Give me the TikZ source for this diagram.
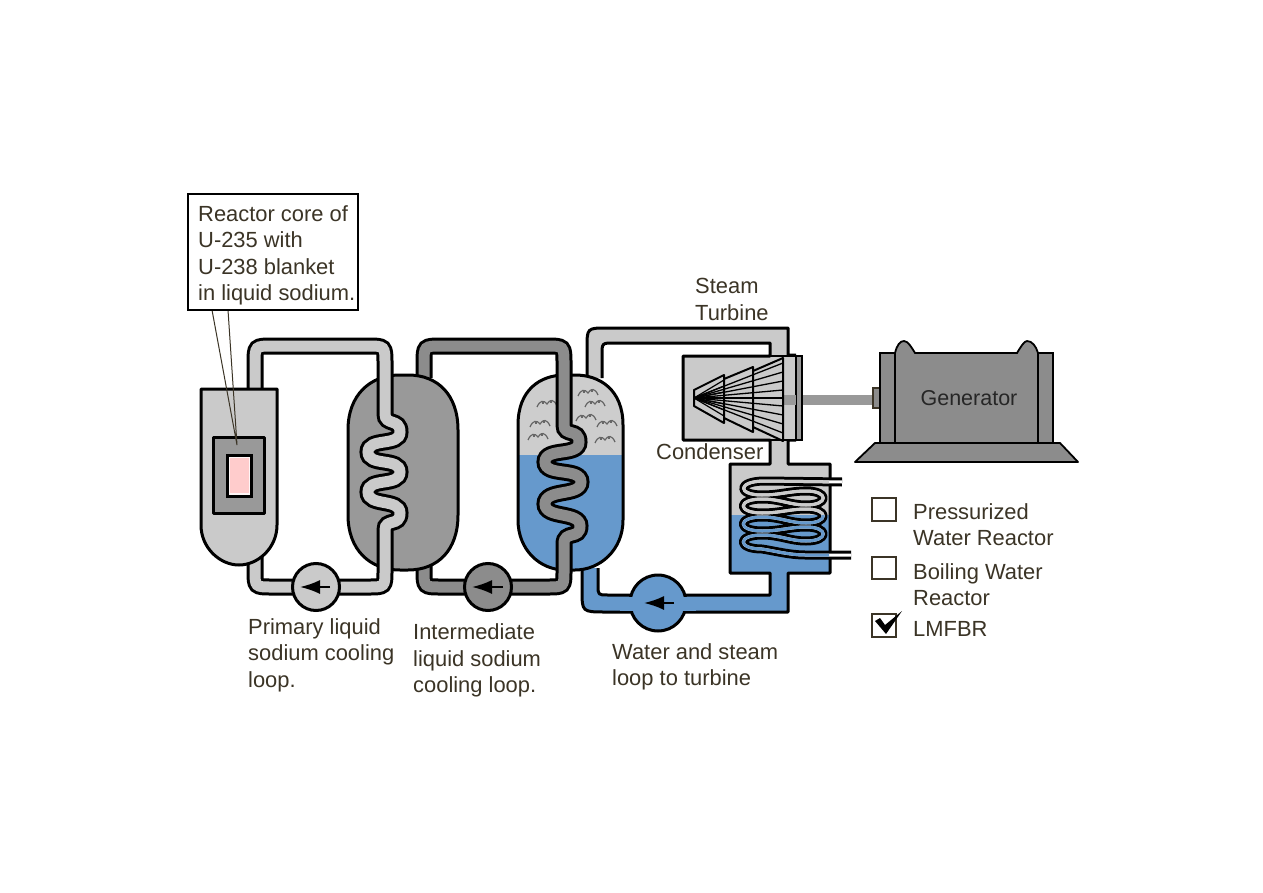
\documentclass[tikz,border=0pt]{standalone}
\usepackage{fontspec}
\setmainfont{Liberation Sans}
\usetikzlibrary{arrows.meta}
\definecolor{ink}{HTML}{3B3426}
\definecolor{lgray}{HTML}{CACACA}
\definecolor{mgray}{HTML}{999999}
\definecolor{dgray}{HTML}{8C8C8C}
\definecolor{water}{HTML}{6699CC}
\definecolor{pink}{HTML}{FFCCCC}
\tikzset{
  lbl/.style={anchor=north west,align=left,inner sep=0pt,text=ink,font=\fontsize{21.9}{26.6}\selectfont},
  outl/.style={draw=black,line width=3pt,line join=round},
  pumpc/.style={draw=black,line width=3pt},
  tickbox/.style={draw=ink,line width=2pt,fill=white},
  squig/.style={draw=black!60,line width=1.2pt},
  flowtip/.style={-{Latex[length=20pt,width=14pt]},black,line width=2pt},
  pics/steamsq/.style={code={
    \draw[squig] (-10,4) .. controls (-7,-3) and (-3,-3) .. (0,1) .. controls (3,-4) and (7,-4) .. (10,3);
    \draw[squig] (-4,-2) -- (-4,1) (4,-3) -- (4,0);
  }},
}
\def\pipeA{(255,392) -- (255,364) .. controls (255,346) .. (273,346) -- (367,346) .. controls (385,346) .. (385,364) -- (385,414)
 .. controls (385,426) and (400,418) .. (400,432)
 .. controls (400,447) and (368,437) .. (368,452)
 .. controls (368,467) and (400,457) .. (400,472)
 .. controls (400,487) and (368,477) .. (368,492)
 .. controls (368,507) and (400,498) .. (400,513)
 .. controls (400,527) and (385,518) .. (385,530)
 -- (385,570) .. controls (385,587) .. (368,587) -- (272,587) .. controls (255,587) .. (255,570) -- (255,555)}
\def\pipeB{(424,378) -- (424,364) .. controls (424,346) .. (442,346) -- (546,346) .. controls (564,346) .. (564,364) -- (564,425)
 .. controls (564,437) and (579,428) .. (579,442)
 .. controls (579,457) and (545,447) .. (545,462)
 .. controls (545,477) and (581,467) .. (581,482)
 .. controls (581,497) and (545,488) .. (545,504)
 .. controls (545,519) and (580,511) .. (580,526)
 .. controls (580,540) and (564,530) .. (564,544)
 -- (564,570) .. controls (564,587) .. (547,587) -- (441,587) .. controls (424,587) .. (424,570) -- (424,565)}
\def\coilpath{(842,482) -- (765,481) .. controls (737,481) and (737,495) .. (762,495)
 .. controls (780,495) and (790,491) .. (806,491) .. controls (829,491) and (829,505) .. (806,505)
 .. controls (790,505) and (780,499) .. (762,499) .. controls (737,499) and (737,513) .. (762,513)
 .. controls (780,513) and (790,509) .. (806,509) .. controls (829,509) and (829,523) .. (806,523)
 .. controls (790,523) and (780,517) .. (762,517) .. controls (737,517) and (737,531) .. (762,531)
 .. controls (780,531) and (790,527) .. (806,527) .. controls (829,527) and (829,541) .. (806,541)
 .. controls (790,541) and (780,535) .. (762,535) .. controls (737,535) and (737,549) .. (762,549)
 .. controls (775,551) and (790,555) .. (805,555) -- (851,555)}
\def\vesselTwo{(518,425) .. controls (518,390) and (540,375) .. (565,375) -- (575,375) .. controls (600,375) and (623,390) .. (623,425) -- (623,520) .. controls (623,550) and (600,570) .. (575,570) -- (565,570) .. controls (540,570) and (518,550) .. (518,520) -- cycle}
\begin{document}
\begin{tikzpicture}[x=1pt,y=-1pt]
\useasboundingbox (0,0) rectangle (1263,893);
\fill[white] (0,0) rectangle (1263,893);

% steam side
\path[fill=lgray] (587,378) -- (587,348) .. controls (587,328) .. (607,328) -- (788,328) -- (788,355) -- (796,355) -- (796,440) -- (788,440) -- (788,464) -- (830,464) -- (830,516) -- (730,516) -- (730,464) -- (770,464) -- (770,440) -- (683,440) -- (683,356) -- (770,356) -- (770,343) -- (614,343) .. controls (602,343) .. (602,355) -- (602,378) -- cycle;
% water side
\path[fill=water] (730,515) -- (830,515) -- (830,573) -- (788,573) -- (788,612) -- (606,612) .. controls (582,612) .. (582,590) -- (582,568) -- (598,568) -- (598,585) .. controls (598,595) .. (608,595) -- (770,595) -- (770,573) -- (730,573) -- cycle;
% loop outline
\draw[outl] (587,378) -- (587,348) .. controls (587,328) .. (607,328) -- (788,328) -- (788,355) -- (796,355)
  (796,440) -- (788,440) -- (788,464) -- (830,464) -- (830,573) -- (788,573) -- (788,612) -- (606,612) .. controls (582,612) .. (582,590) -- (582,568)
  (598,568) -- (598,585) .. controls (598,595) .. (608,595) -- (770,595) -- (770,573) -- (730,573) -- (730,464) -- (770,464) -- (770,440) -- (683,440) -- (683,356) -- (770,356) -- (770,343) -- (614,343) .. controls (602,343) .. (602,355) -- (602,378);
% turbine casing
\fill[lgray] (784,356) rectangle (796,440);
\draw[black,line width=1.5pt,fill=mgray] (796,356) rectangle (802,440);
\draw[black,line width=2pt] (770,356) -- (796,356) (770,440) -- (796,440);
\fill[mgray] (783,395) rectangle (796,405);
% turbine blades
\foreach \yy in {363,372,381,390,398,406,415,424,433}{
  \draw[black,line width=1.3pt] (694,398) -- (783,\yy);
}
\foreach \yy in {380,386,392,398,404,410,416}{
  \draw[black,line width=1.2pt] (694,398) -- (724,\yy);
}
\draw[black,line width=2pt,line join=round] (694,390) -- (724,375) -- (724,423) -- (694,406) -- cycle;
\draw[black,line width=2pt,line join=round] (724,379) -- (753,367) -- (753,432) -- (724,418);
\draw[black,line width=2pt,line join=round] (753,371) -- (783,358) -- (783,441) -- (753,427);
% coil
\draw[black,line width=9pt,line cap=butt,line join=round] \coilpath;
\draw[white,line width=3pt,line join=round] \coilpath;
\begin{scope}
  \clip (731,465) rectangle (829,515);
  \draw[lgray,line width=3pt,line join=round] \coilpath;
\end{scope}
\begin{scope}
  \clip (731,515) rectangle (829,572);
  \draw[water,line width=3pt,line join=round] \coilpath;
\end{scope}
% blue pump
\node[circle,minimum size=56pt,inner sep=0pt,fill=water,pumpc] (pumpw) at (658,603) {};
\fill[water] (620,596.5) rectangle (696,610.5);
\draw[flowtip] (674,603) -- (644,603);

% vessel 2
\fill[water] \vesselTwo;
\begin{scope}
  \clip (510,370) rectangle (630,454);
  \fill[lgray!95!white] \vesselTwo;
\end{scope}
\draw[outl] \vesselTwo;
\foreach \px/\py in {588/392,595/403,586/417,607/423,605/439,547/403,540/423,538/436}{
  \pic at (\px,\py) {steamsq};
}
% pipe B
\draw[black,line width=17pt] \pipeB;
\draw[dgray,line width=11pt] \pipeB;
% vessel 1
\draw[outl,fill=mgray] (348,430) .. controls (348,395) and (370,375) .. (400,375) -- (408,375) .. controls (438,375) and (458,395) .. (458,430) -- (458,515) .. controls (458,550) and (438,570) .. (408,570) -- (400,570) .. controls (370,570) and (348,550) .. (348,515) -- cycle;
% pipe A
\draw[black,line width=17pt] \pipeA;
\draw[lgray,line width=11pt] \pipeA;
% reactor
\draw[outl,fill=lgray] (201,389) -- (277,389) -- (277,525) .. controls (277,548) and (258,565) .. (239,565) .. controls (220,565) and (201,548) .. (201,525) -- cycle;
\draw[outl,fill=mgray] (213,437) rectangle (264,513);
\draw[black,line width=3pt,fill=white!85!pink] (227,455) rectangle (251,496);
\fill[pink] (230,458) rectangle (249,493);
% leader
\draw[ink,line width=1pt] (212,310) -- (237,445) -- (228,310);
% pumps
\node[circle,minimum size=47pt,inner sep=0pt,fill=lgray,pumpc] (pumpa) at (316,587) {};
\draw[flowtip] (330,587) -- (300,587);
\node[circle,minimum size=47pt,inner sep=0pt,fill=dgray,pumpc] (pumpb) at (488,587) {};
\draw[flowtip] (503,587) -- (472,587);

% generator
\fill[mgray] (803,395) rectangle (873,405);
\draw[ink,line width=1.5pt,fill=dgray] (873,388) rectangle (880,408);
\draw[black,line width=1.8pt,fill=dgray] (880,353) rectangle (1053,443);
\draw[black,line width=1.8pt,fill=dgray] (895,443) -- (895,353) .. controls (897,345) and (900,341) .. (904,341) .. controls (908,341) and (912,348) .. (915,353) -- (1017,353) .. controls (1020,348) and (1024,341) .. (1027,341) .. controls (1032,341) and (1036,346) .. (1038,353) -- (1038,443) -- cycle;
\draw[black,line width=1.8pt,fill=dgray,line join=round] (855,462) -- (1078,462) -- (1060,443) -- (875,443) -- cycle;
\node[anchor=center,inner sep=0pt,text=black!85,font=\fontsize{21.5}{26}\selectfont] (gen) at (969,398) {Generator};

% reactor label
\node[draw=black,line width=1.2pt,fill=white,minimum width=170pt,minimum height=116pt,inner sep=0pt] (box) at (273,252) {};
\node[lbl] (t1) at (198,205) {Reactor core of\\U-235 with\\U-238 blanket\\in liquid sodium.};
\node[lbl] (t2) at (695,278.5) {Steam\\Turbine};
\node[lbl] (t3) at (248,618) {Primary liquid\\sodium cooling\\loop.};
\node[lbl] (t4) at (413,623.5) {Intermediate\\liquid sodium\\cooling loop.};
\node[lbl] (t5) at (612,643) {Water and steam\\loop to turbine};
\node[lbl] (t6) at (656,443.5) {Condenser};
\node[lbl] (t7) at (913,503) {Pressurized\\Water Reactor};
\node[lbl] (t8) at (913,563) {Boiling Water\\Reactor};
\node[lbl] (t9) at (913,621) {LMFBR};
% check boxes
\draw[tickbox] (872,498) rectangle (896,521);
\draw[tickbox] (872,557) rectangle (896,579);
\draw[tickbox] (872,614) rectangle (896,637);
\fill[black] (875,621) -- (880,618) -- (885,625) -- (902,611) -- (886,634) -- cycle;
\end{tikzpicture}
\end{document}
